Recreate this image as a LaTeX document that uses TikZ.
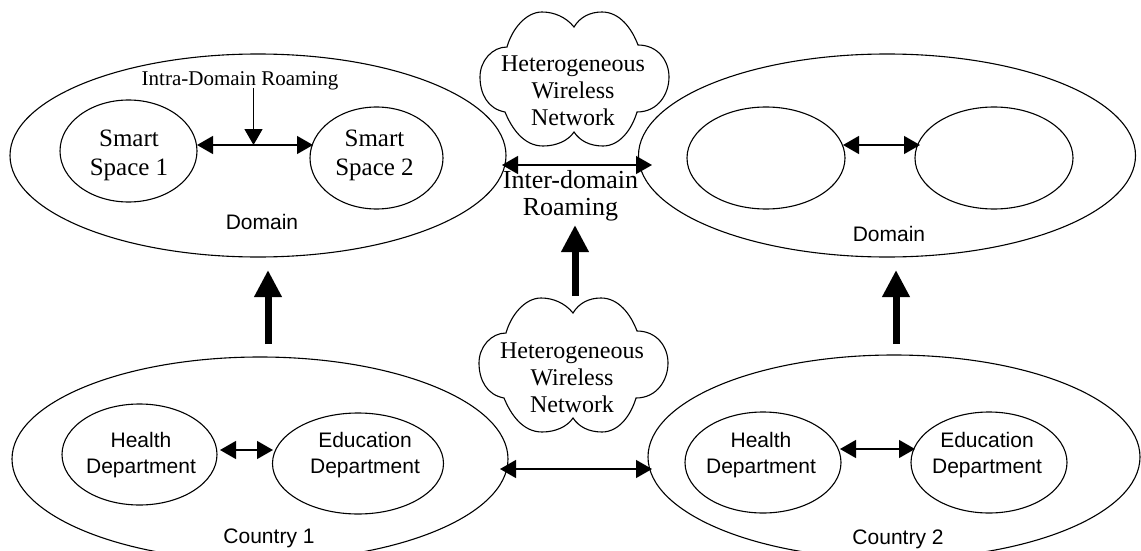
\documentclass[tikz,border=0pt]{standalone}
\usepackage{fontspec}
\setmainfont{Liberation Serif}
\newfontfamily\arialf{Liberation Sans}
\usetikzlibrary{arrows.meta,shapes.geometric}
\tikzset{x=1pt,y=-1pt,
 oval/.style={draw,ellipse,line width=1.1pt,inner sep=0pt},
 smarttext/.style={font=\fontsize{25}{29}\selectfont,align=center,inner sep=0pt},
 cloudtext/.style={font=\fontsize{24}{27}\selectfont,align=center,inner sep=0pt},
 intertext/.style={font=\fontsize{26}{27}\selectfont,align=center,inner sep=0pt},
 seriflabel/.style={font=\fontsize{21}{24}\selectfont,inner sep=0pt},
 sanslabel/.style={font=\arialf\fontsize{21}{26}\selectfont,align=center,inner sep=0pt},
 thin arrow/.style={line width=1.3pt,{Triangle[length=16pt,width=18pt]}-{Triangle[length=16pt,width=18pt]}},
 thick arrow/.style={line width=7pt,-{Triangle[length=27pt,width=26pt]}},
 down arrow/.style={line width=1.3pt,-{Triangle[length=16pt,width=18pt]}},
 cloudshape/.style={draw,line width=1.1pt}}
\newcommand{\cloudpath}[2]{%
 \draw[cloudshape,shift={(#1,#2)}] (0,-52)
  .. controls (-8,-62) and (-20,-67) .. (-32,-67)
  .. controls (-48,-67) and (-62,-50) .. (-67,-32)
  .. controls (-82,-32) and (-94,-18) .. (-94,-2)
  .. controls (-94,15) and (-86,30) .. (-69,33)
  .. controls (-62,50) and (-50,67) .. (-31,67)
  .. controls (-18,67) and (-6,62) .. (0,53)
  .. controls (6,62) and (16,67) .. (29,67)
  .. controls (46,67) and (58,50) .. (63,33)
  .. controls (84,33) and (95,15) .. (95,-2)
  .. controls (95,-18) and (84,-34) .. (64,-34)
  .. controls (58,-50) and (46,-67) .. (28,-67)
  .. controls (16,-67) and (6,-62) .. (0,-52) -- cycle;}
\begin{document}
\begin{tikzpicture}
\useasboundingbox (0,0) rectangle (1141,551);
\clip (0,0) rectangle (1141,551);
\node[oval,minimum width=496pt,minimum height=203pt] (d1) at (258,155.5) {};
\node[oval,minimum width=137pt,minimum height=102pt] (s1) at (128.5,151) {};
\node[oval,minimum width=133pt,minimum height=102pt] (s2) at (376.5,158) {};
\node[oval,minimum width=497pt,minimum height=203pt] (d2) at (887,155.5) {};
\node[oval,minimum width=158pt,minimum height=102pt] (s3) at (766,158) {};
\node[oval,minimum width=158pt,minimum height=102pt] (s4) at (994,158) {};
\node[oval,minimum width=496pt,minimum height=204pt] (c1) at (260,459) {};
\node[oval,minimum width=155pt,minimum height=101pt] (h1) at (139.5,454.5) {};
\node[oval,minimum width=171pt,minimum height=101pt] (e1) at (358,463.5) {};
\node[oval,minimum width=492pt,minimum height=204pt] (c2) at (894,457) {};
\node[oval,minimum width=156pt,minimum height=101pt] (h2) at (763,462.5) {};
\node[oval,minimum width=156pt,minimum height=101pt] (e2) at (989,462.5) {};
\cloudpath{574}{79}
\cloudpath{573}{365}
\node[smarttext] (t1) at (129,155.5) {Smart\\Space 1};
\node[smarttext] (t2) at (374.5,155.5) {Smart\\Space 2};
\node[seriflabel] (intra) at (240,81) {Intra-Domain Roaming};
\node[sanslabel] (dl1) at (262,222) {Domain};
\node[sanslabel] (dl2) at (889,234) {Domain};
\node[cloudtext] (n1) at (573,90.5) {Heterogeneous\\Wireless\\Network};
\node[cloudtext] (n2) at (572,377.5) {Heterogeneous\\Wireless\\Network};
\node[intertext] (inter) at (570.5,195.5) {Inter-domain\\Roaming};
\node[sanslabel] (hl1) at (141,455) {Health\\Department};
\node[sanslabel] (el1) at (365,455) {Education\\Department};
\node[sanslabel] (hl2) at (761,455) {Health\\Department};
\node[sanslabel] (el2) at (987,455) {Education\\Department};
\node[sanslabel] (cl1) at (269,538) {Country 1};
\node[sanslabel] (cl2) at (898,539) {Country 2};
\coordinate (m) at (253.5,145);
\draw[thin arrow] (197,145) -- (313,145);
\draw[down arrow] (253.5,88) -- (m);
\draw[thin arrow] (843,145) -- (920,145);
\draw[thin arrow] (502,165) -- (652,165);
\draw[thin arrow] (220,450) -- (273,450);
\draw[thin arrow] (500,469) -- (652,469);
\draw[thin arrow] (840,449) -- (915,449);
\draw[thick arrow] (575,296) -- (575,225);
\draw[thick arrow] (268,344) -- (268,270);
\draw[thick arrow] (896,344) -- (896,270);
\end{tikzpicture}
\end{document}
